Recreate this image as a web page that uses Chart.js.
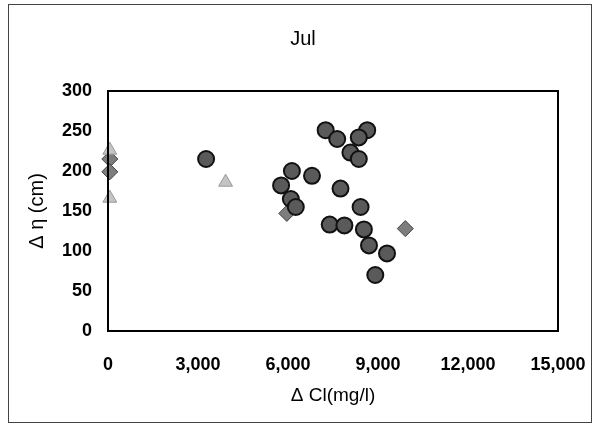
<!DOCTYPE html>
<html>
<head>
<meta charset="utf-8">
<script src="https://cdn.jsdelivr.net/npm/chart.js@4/dist/chart.umd.min.js"></script>
<style>
  html, body { margin: 0; padding: 0; background: #fff; }
  #wrap { width: 598px; height: 426px; }
</style>
</head>
<body>
<div id="wrap"><canvas id="c" width="598" height="426"></canvas></div>
<script>
// ----------------- DATA -----------------
const circleX = [3270, 6130, 6800, 5770, 6095, 6260, 7750, 7390, 7880, 7255, 7640, 8640, 8360, 8080, 8360, 8420, 8530, 8700, 9300, 8910];
const circleY = [215, 200, 194, 182, 165, 155, 178, 133, 132, 251, 240, 251, 242, 223, 215, 155, 127, 107, 97, 70];
const triX = [60, 60, 3920];
const triY = [226, 166, 186];
const diaX = [60, 60, 5960, 9910];
const diaY = [215, 199, 147, 128];
const xTicks = [0, 3000, 6000, 9000, 12000, 15000];
const yTicks = [0, 50, 100, 150, 200, 250, 300];

const toPts = (xs, ys) => xs.map((x, i) => ({ x, y: ys[i] }));

// white bg + outer frame + plot box
const framePlugin = {
  id: 'frame',
  beforeDraw(chart) {
    const ctx = chart.ctx;
    ctx.save();
    ctx.fillStyle = '#fff';
    ctx.fillRect(0, 0, chart.width, chart.height);
    ctx.strokeStyle = '#444';
    ctx.lineWidth = 1;
    ctx.strokeRect(8.5, 4.5, chart.width - 15, chart.height - 8);
    ctx.restore();
  },
  afterDatasetsDraw(chart) {
    const a = chart.chartArea;
    const ctx = chart.ctx;
    ctx.save();
    ctx.strokeStyle = '#000';
    ctx.lineWidth = 2;
    ctx.strokeRect(a.left, a.top, a.right - a.left, a.bottom - a.top);
    ctx.restore();
  }
};

const tickFont = { family: 'Liberation Sans', size: 18, weight: 'bold' };

new Chart(document.getElementById('c'), {
  type: 'scatter',
  data: {
    datasets: [
      {
        data: toPts(circleX, circleY),
        pointStyle: 'circle', pointRadius: 8, pointHoverRadius: 8,
        backgroundColor: '#5a5a5a', borderColor: '#111', borderWidth: 2, clip: false
      },
      {
        data: toPts(triX, triY),
        pointStyle: 'triangle', pointRadius: 8, pointHoverRadius: 8,
        backgroundColor: '#c4c4c4', borderColor: '#999', borderWidth: 1, clip: false
      },
      {
        data: toPts(diaX, diaY),
        pointStyle: 'rectRot', pointRadius: 8, pointHoverRadius: 8,
        backgroundColor: '#7d7d7d', borderColor: '#444', borderWidth: 1, clip: false
      }
    ]
  },
  options: {
    responsive: false,
    animation: false,
    layout: { padding: { left: 8, right: 0, top: 0, bottom: 10 } },
    plugins: {
      legend: { display: false },
      tooltip: { enabled: false },
      title: {
        display: true, text: 'Jul', color: '#000',
        font: { family: 'Liberation Sans', size: 20, weight: 'normal' },
        padding: { top: 27, bottom: 40 }
      }
    },
    scales: {
      x: {
        type: 'linear', min: 0, max: 15000,
        afterBuildTicks: s => { s.ticks = xTicks.map(v => ({ value: v })); },
        afterFit: s => { s.height = 85; s.paddingLeft = 0; s.paddingRight = 0; },
        grid: { display: false, drawTicks: false },
        border: { display: false },
        ticks: {
          color: '#000', font: tickFont, padding: 23, maxRotation: 0,
          callback: v => v.toLocaleString('en-US')
        },
        title: {
          display: true, text: 'Δ Cl(mg/l)', color: '#000',
          font: { family: 'Liberation Sans', size: 19 },
          padding: { top: 0, bottom: 9 }
        }
      },
      y: {
        type: 'linear', min: 0, max: 300,
        afterBuildTicks: s => { s.ticks = yTicks.map(v => ({ value: v })); },
        afterFit: s => { s.width = 100; s.paddingTop = 0; s.paddingBottom = 0; },
        grid: { display: false, drawTicks: false },
        border: { display: false },
        ticks: { color: '#000', font: tickFont, padding: 16 },
        title: {
          display: true, text: 'Δ η (cm)', color: '#000',
          font: { family: 'Liberation Sans', size: 20 },
          padding: { top: 17, bottom: 0 }
        }
      },
      yr: {
        type: 'linear', position: 'right', min: 0, max: 1,
        afterFit: s => { s.width = 40; },
        grid: { display: false, drawTicks: false },
        border: { display: false },
        ticks: { display: false }
      }
    }
  },
  plugins: [framePlugin]
});
</script>
</body>
</html>
